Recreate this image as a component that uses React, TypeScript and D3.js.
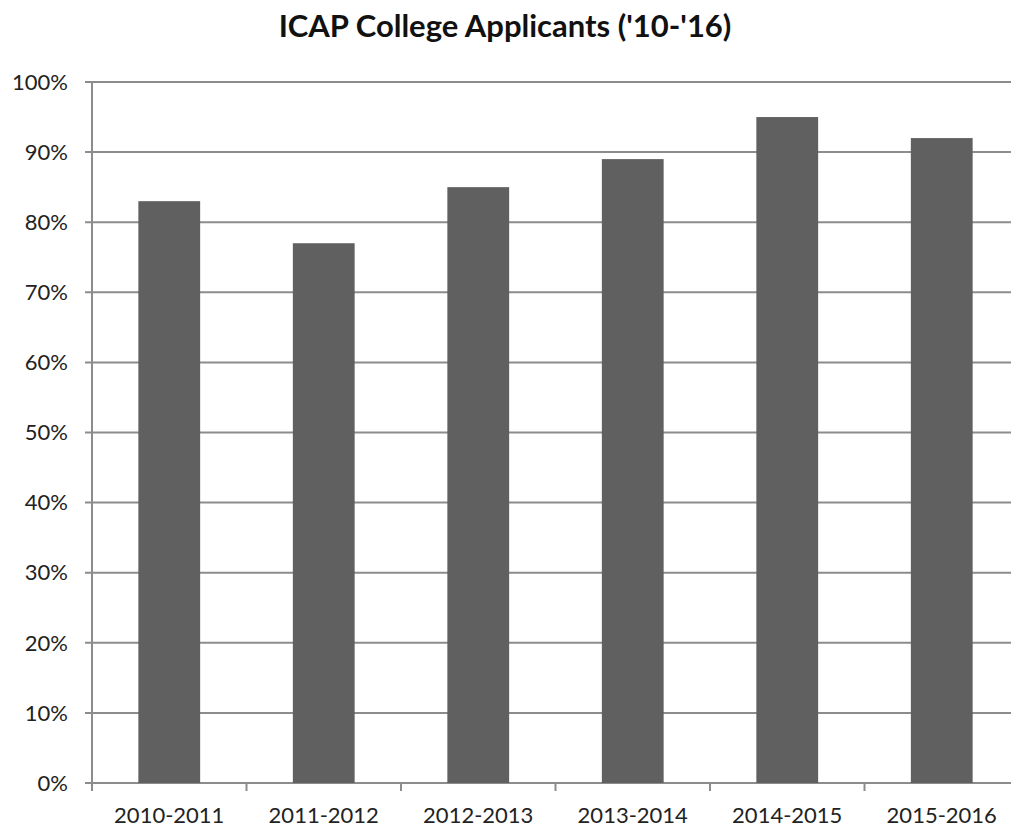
import React from "react";
import * as d3 from "d3";

const categories = ["2010-2011", "2011-2012", "2012-2013", "2013-2014", "2014-2015", "2015-2016"];
const values = [83, 77, 85, 89, 95, 92];
const yTicks = [0, 10, 20, 30, 40, 50, 60, 70, 80, 90, 100];
const title = "ICAP College Applicants ('10-'16)";

const W = 1011;
const H = 829;
const left = 92;
const bandW = 154.5;
const right = left + bandW * categories.length;
const top = 82;
const bottom = 783;

export default function App() {
  const x = d3.scaleBand<string>().domain(categories).range([left, right]).paddingInner(0.6).paddingOuter(0.3);
  const y = d3.scaleLinear().domain([0, 100]).range([bottom, top]);
  const font = "Lato, 'Open Sans', sans-serif";
  const grid = "#8c8c8c";
  return (
    <div style={{ position: "absolute", left: 0, top: 0 }}>
      <svg width={W} height={H} style={{ display: "block", background: "#fff" }}>
        <text x={505} y={37} textAnchor="middle" fontFamily={font} fontWeight={700} fontSize={31} fill="#111">
          {title}
        </text>
        {yTicks.map((t) => (
          <g key={t}>
            <line x1={left - 7} x2={right} y1={y(t)} y2={y(t)} stroke={grid} strokeWidth={2} />
            <text x={68} y={y(t)} dy="0.35em" textAnchor="end" fontFamily={font} fontSize={22} fill="#222">
              {t + "%"}
            </text>
          </g>
        ))}
        <line x1={left} x2={left} y1={top} y2={bottom} stroke={grid} strokeWidth={2} />
        {categories.map((c, i) => (
          <g key={c}>
            <line x1={left + i * bandW} x2={left + i * bandW} y1={bottom} y2={bottom + 8} stroke={grid} strokeWidth={2} />
            <rect x={x(c)} y={y(values[i])} width={x.bandwidth()} height={bottom - y(values[i])} fill="#606060" />
            <text x={(x(c) as number) + x.bandwidth() / 2} y={823} textAnchor="middle" fontFamily={font} fontSize={22} fill="#222">
              {c}
            </text>
          </g>
        ))}
        <line x1={right} x2={right} y1={bottom} y2={bottom + 8} stroke={grid} strokeWidth={2} />
      </svg>
    </div>
  );
}
